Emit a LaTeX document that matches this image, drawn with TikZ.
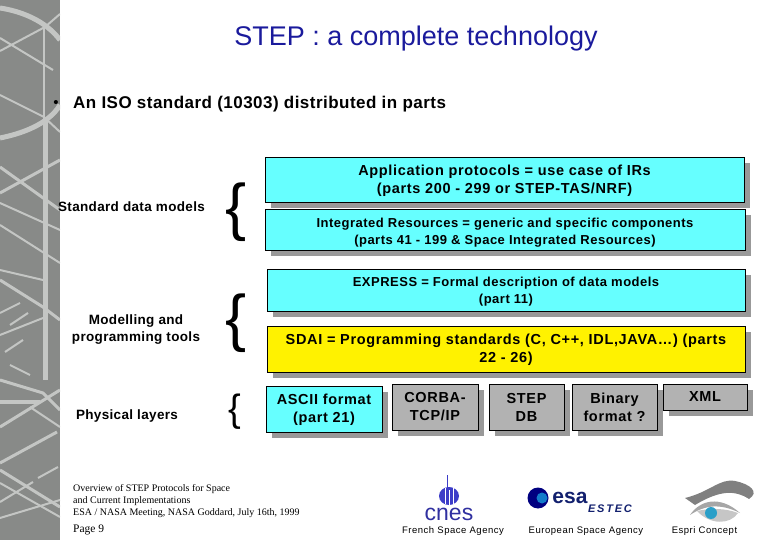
\documentclass[tikz,border=0pt]{standalone}
\usepackage{fontspec}
\setmainfont{Liberation Sans}
\newfontfamily\serifface{Liberation Serif}
\usetikzlibrary{shadows}
\definecolor{panelgray}{HTML}{888A88}
\definecolor{linegray}{HTML}{C4C6C4}
\definecolor{shadowgray}{HTML}{999999}
\definecolor{boxcyan}{HTML}{66FFFF}
\definecolor{boxgray}{HTML}{B2B2B2}
\definecolor{titleblue}{HTML}{1A1A9C}
\definecolor{esablue}{HTML}{12206E}
\definecolor{cnesblue}{HTML}{3C3CC8}
\definecolor{eyeblue}{HTML}{2A9FC8}
\newcommand{\wider}[1]{\addfontfeatures{LetterSpace=#1}}

\begin{document}
\begin{tikzpicture}[
    x=1pt, y=-1pt,
    box/.style={draw=black, rectangle, inner sep=1pt, align=center, line width=0.9pt,
        font=\fontsize{14.5}{18}\selectfont\bfseries\wider{4.6}, text=black,
        copy shadow={shadow xshift=6pt, shadow yshift=-6pt, fill=shadowgray, draw=none}},
    smalltext/.style={font=\fontsize{13}{17}\selectfont\bfseries\wider{3.8}},
    rowlabel/.style={align=center, font=\fontsize{13.5}{17}\selectfont\bfseries\wider{2.5}},
    curly/.style={font=\fontsize{63}{63}\selectfont},
    agency/.style={font=\fontsize{9.5}{11}\selectfont\wider{5.5}},
    bgline/.style={draw=linegray, line width=3pt},
    thinline/.style={draw=linegray, line width=2pt}
]
\useasboundingbox (0,0) rectangle (780,540);

% Left panel
\fill[panelgray] (0,0) rectangle (60,540);
\begin{scope}
\clip (0,0) rectangle (60,540);
\draw[bgline, line width=5pt] (0,8) .. controls (20,11) and (45,20) .. (60,40);
\draw[bgline, line width=5pt] (0,138) .. controls (20,134) and (48,125) .. (60,105);
\draw[thinline] (0,51) -- (45,27) -- (60,14);
\draw[thinline] (0,38) -- (53,70);
\draw[thinline] (0,95) -- (44,117) -- (60,132);
\draw[thinline] (44,25) -- (44,118);
\draw[bgline, line width=5pt] (45,118) -- (45,380);
\draw[bgline] (0,167) -- (60,210);
\draw[bgline] (0,193) -- (60,160);
\draw[thinline] (0,203) -- (60,230);
\draw[thinline] (0,225) -- (60,263);
% Lower half
\draw[thinline] (0,270) -- (43,280);
\draw[bgline] (0,280) -- (43,307) -- (60,320);
\draw[thinline] (0,313) -- (20,303);
\draw[thinline] (10,325) -- (28,313);
\draw[thinline] (0,335) -- (43,318);
\draw[thinline] (5,352) -- (23,340);
\draw[thinline] (10,365) -- (30,375);
\draw[bgline] (0,380) -- (43,393) -- (60,410);
\draw[bgline, line width=4pt] (0,402) -- (40,402);
\draw[bgline] (0,427) -- (60,390);
\draw[bgline] (0,463) -- (57,432);
\draw[thinline] (30,407) -- (60,427);
\draw[bgline] (0,470) -- (60,507);
\draw[thinline] (0,502) -- (33,482);
\draw[thinline] (38,478) -- (58,467);
\draw[thinline] (0,483) -- (60,517);
\draw[thinline] (0,518) -- (60,500);
\end{scope}

% Title and bullet
\node[font=\fontsize{27}{30}\selectfont, text=titleblue] (title) at (416,39) {STEP : a complete technology};
\node[font=\fontsize{15}{18}\selectfont] (bullet) at (56,104) {•};
\node[anchor=west, inner sep=0pt, font=\fontsize{17}{20}\selectfont\bfseries\wider{2.8}] (iso) at (73,104) {An ISO standard (10303) distributed in parts};

% Row labels
\node[rowlabel] (datamodels) at (131.5,207) {Standard data models};
\node[rowlabel] (tools) at (136,330) {Modelling and\\programming tools};
\node[rowlabel] (physical) at (127,416) {Physical layers};

% Braces
\node[curly] (bracea) at (236,212) {\{};
\node[curly] (braceb) at (236,323) {\{};
\node[curly, font=\fontsize{38}{38}\selectfont] (bracec) at (235,412) {\{};

% Blue and yellow boxes
\node[box, fill=boxcyan, minimum width=479pt, minimum height=45pt] (protocols) at (504.5,179.5)
    {\rule{0pt}{13pt}Application protocols = use case of IRs\\(parts 200 - 299 or STEP-TAS/NRF)};
\node[box, smalltext, fill=boxcyan, minimum width=480pt, minimum height=41pt] (resources) at (505,229.5)
    {\rule{0pt}{15pt}Integrated Resources = generic and specific components\\(parts 41 - 199 \& Space Integrated Resources)};
\node[box, smalltext, fill=boxcyan, minimum width=478pt, minimum height=42pt] (express) at (506,290)
    {\rule{0pt}{13pt}EXPRESS = Formal description of data models\\(part 11)};
\node[box, fill=yellow, minimum width=478pt, minimum height=46pt] (sdai) at (506,349)
    {\rule{0pt}{13pt}SDAI = Programming standards (C, C++, IDL,JAVA…) (parts\\22 - 26)};

% Physical layer boxes
\node[box, fill=boxcyan, minimum width=116pt, minimum height=46pt] (ascii) at (324,409) {\rule{0pt}{13pt}ASCII format\\(part 21)};
\node[box, fill=boxgray, minimum width=86pt, minimum height=46pt] (corba) at (435,407) {CORBA-\\TCP/IP};
\node[box, fill=boxgray, minimum width=75pt, minimum height=46pt] (stepdb) at (526.5,407) {STEP\\DB};
\node[box, fill=boxgray, minimum width=85pt, minimum height=46pt] (binary) at (614.5,407) {Binary\\format ?};
\node[box, fill=boxgray, minimum width=84pt, minimum height=26pt] (xml) at (705,397) {XML};

% Footer
\node[anchor=north west, inner sep=0pt, align=left, font=\fontsize{10}{12}\selectfont\serifface] (overview) at (73,484.5)
    {Overview of STEP Protocols for Space\\and Current Implementations\\ESA / NASA Meeting, NASA Goddard, July 16th, 1999};
\node[anchor=west, inner sep=0pt, font=\fontsize{11.5}{14}\selectfont\serifface] (page) at (73,530) {Page 9};

% CNES logo
\fill[cnesblue] (449,496) ellipse (10pt and 9pt);
\draw[white, line width=0.5pt] (445,488) -- (445,504) (449,490) -- (449,505) (453,488) -- (453,504);
\draw[cnesblue, line width=0.7pt] (447,475) -- (447,490);
\node[text=cnesblue!80!black, font=\fontsize{23}{23}\selectfont] (cnes) at (449,514) {cnes};
\node[agency] (french) at (453,531) {French Space Agency};

% ESA logo
\fill[blue!50!black] (538,498) circle (10.5pt);
\fill[cyan!60!blue] (542,498) circle (5.5pt);
\node[text=esablue, font=\fontsize{21}{21}\selectfont\bfseries] (esa) at (570,498) {esa};
\node[text=esablue, font=\fontsize{11}{11}\selectfont\bfseries\itshape\wider{16}] (estec) at (610,509) {ESTEC};
\node[agency] (european) at (586,531) {European Space Agency};

% Espri logo
\fill[gray] (685,498) .. controls (710,492) and (720,478) .. (735,481)
    .. controls (750,484) and (760,492) .. (749,499)
    .. controls (735,490) and (720,490) .. (695,505) -- cycle;
\fill[gray!70] (690,515) .. controls (700,500) and (720,495) .. (740,513)
    .. controls (720,503) and (705,505) .. cycle;
\fill[gray!45] (697,511) .. controls (710,525) and (730,525) .. (738,513)
    .. controls (725,508) and (710,508) .. cycle;
\fill[eyeblue] (711,513) circle (6pt);
\node[agency] (espri) at (704.5,531) {Espri Concept};
\end{tikzpicture}
\end{document}
